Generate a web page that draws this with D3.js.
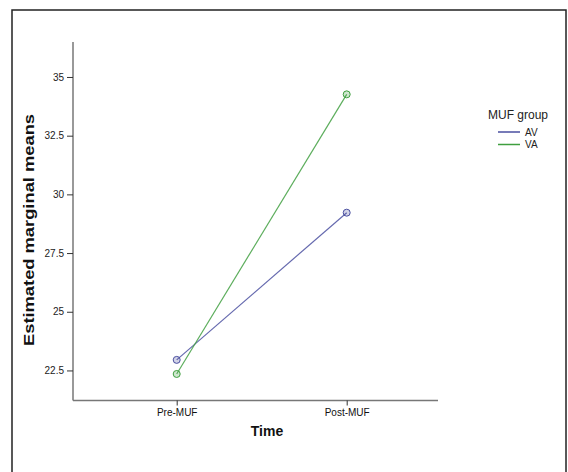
<!DOCTYPE html>
<html>
<head>
<meta charset="utf-8">
<script src="https://cdn.jsdelivr.net/npm/d3@7"></script>
<style>
  body { margin: 0; background: #fff; }
  svg { display: block; font-family: "Liberation Sans", Arial, sans-serif; }
</style>
</head>
<body>
<svg id="chart" width="568" height="472"></svg>
<script>
// Data
const categories = ['Pre-MUF', 'Post-MUF'];
const groups = ['AV', 'VA'];
const avMeans = [22.95, 29.22];
const vaMeans = [22.35, 34.26];
const yTicks = [22.5, 25, 27.5, 30, 32.5, 35];
const groupColors = ['#4a4fa0', '#3f9f3f'];

const series = groups.map((g, i) => ({
  name: g,
  color: groupColors[i],
  values: (i === 0 ? avMeans : vaMeans).map((v, j) => ({cat: categories[j], v}))
}));

const svg = d3.select('svg#chart');

// outer frame
svg.append('rect')
  .attr('x', 12).attr('y', 10)
  .attr('width', 554).attr('height', 480)
  .attr('fill', 'none')
  .attr('stroke', '#222')
  .attr('stroke-width', 1.5);

const plot = {left: 73, right: 438, top: 42, bottom: 400.5};

const x = d3.scalePoint()
  .domain(categories)
  .range([176.7, 346.7]);

const y = d3.scaleLinear()
  .domain([21.22, 36.49])
  .range([plot.bottom, plot.top]);

// axis lines
svg.append('line')
  .attr('x1', plot.left).attr('x2', plot.left)
  .attr('y1', plot.top).attr('y2', plot.bottom)
  .attr('stroke', '#777').attr('stroke-width', 1.5);
svg.append('line')
  .attr('x1', plot.left).attr('x2', plot.right)
  .attr('y1', plot.bottom).attr('y2', plot.bottom)
  .attr('stroke', '#777').attr('stroke-width', 1.5);

// y axis
const yAxis = svg.append('g')
  .attr('transform', `translate(${plot.left},0)`)
  .call(d3.axisLeft(y).tickValues(yTicks).tickFormat(d3.format('')).tickSize(6).tickPadding(3));
yAxis.select('.domain').remove();
yAxis.selectAll('.tick line').attr('stroke', '#333');
yAxis.selectAll('.tick text')
  .attr('font-size', 10)
  .attr('fill', '#222')
  .attr('font-family', '"Liberation Sans", Arial, sans-serif');

// x axis
const xAxis = svg.append('g')
  .attr('transform', `translate(0,${plot.bottom})`)
  .call(d3.axisBottom(x).tickSize(5).tickPadding(3));
xAxis.select('.domain').remove();
xAxis.selectAll('.tick line').attr('stroke', '#333');
xAxis.selectAll('.tick text')
  .attr('font-size', 10)
  .attr('fill', '#111')
  .attr('font-family', '"Liberation Sans", Arial, sans-serif');

// axis titles
svg.append('text')
  .attr('x', 267).attr('y', 436)
  .attr('text-anchor', 'middle')
  .attr('font-size', 14)
  .attr('font-weight', 'bold')
  .attr('fill', '#111')
  .text('Time');

svg.append('text')
  .attr('transform', 'translate(34,230) rotate(-90)')
  .attr('text-anchor', 'middle')
  .attr('font-size', 14)
  .attr('font-weight', 'bold')
  .attr('fill', '#111')
  .attr('textLength', 232)
  .attr('lengthAdjust', 'spacingAndGlyphs')
  .text('Estimated marginal means');

// lines and markers
const line = d3.line()
  .x(d => x(d.cat))
  .y(d => y(d.v));

const sg = svg.selectAll('g.series')
  .data(series)
  .join('g')
  .attr('class', 'series');

sg.append('path')
  .attr('d', d => line(d.values))
  .attr('fill', 'none')
  .attr('stroke', d => d.color)
  .attr('stroke-opacity', 0.85)
  .attr('stroke-width', 1.2);

sg.selectAll('circle')
  .data(d => d.values.map(p => ({...p, color: d.color})))
  .join('circle')
  .attr('cx', d => x(d.cat))
  .attr('cy', d => y(d.v))
  .attr('r', 3.5)
  .attr('fill', d => d.color)
  .attr('fill-opacity', 0.25)
  .attr('stroke', d => d.color)
  .attr('stroke-width', 1);

// legend
const legend = svg.append('g').attr('transform', 'translate(488,119)');
legend.append('text')
  .attr('x', 0).attr('y', 0)
  .attr('font-size', 12)
  .attr('fill', '#222')
  .text('MUF group');

const item = legend.selectAll('g.item')
  .data(series)
  .join('g')
  .attr('class', 'item')
  .attr('transform', (d, i) => `translate(0,${13 + i * 12.5})`);
item.append('line')
  .attr('x1', 10).attr('x2', 32)
  .attr('stroke', d => d.color)
  .attr('stroke-width', 1.5);
item.append('text')
  .attr('x', 37).attr('y', 3.5)
  .attr('font-size', 10)
  .attr('fill', '#222')
  .text(d => d.name);
</script>
</body>
</html>
